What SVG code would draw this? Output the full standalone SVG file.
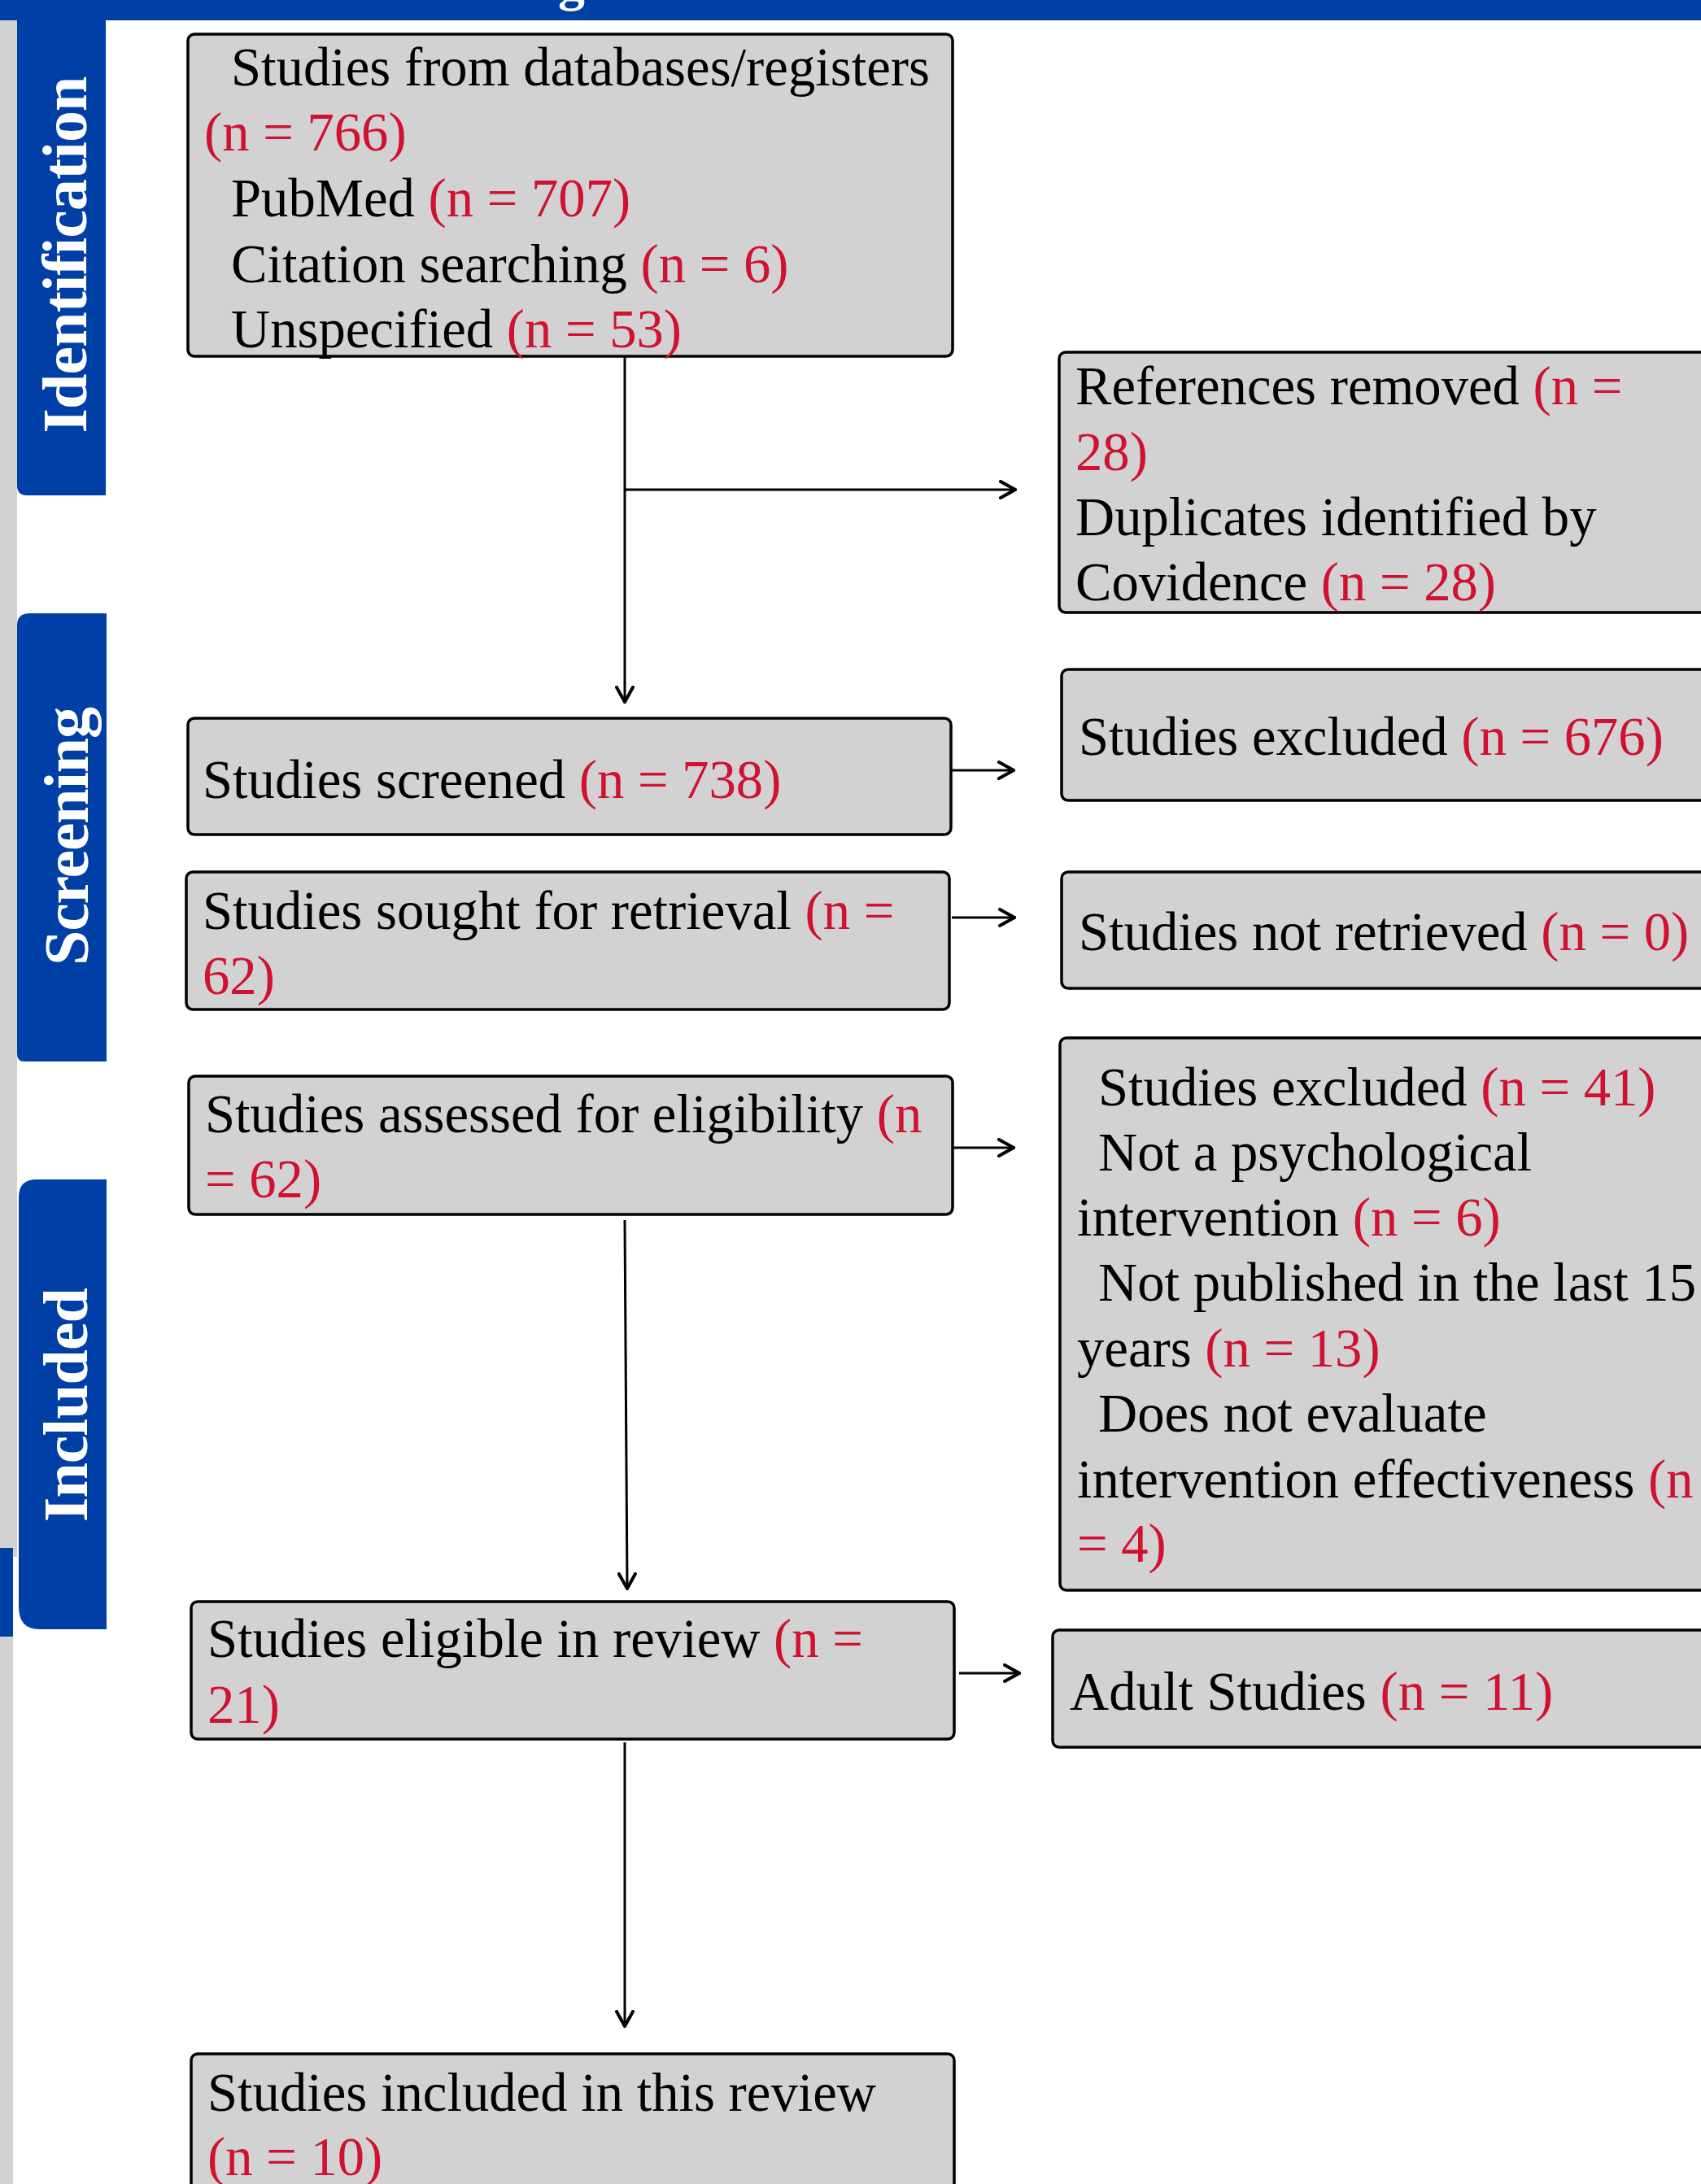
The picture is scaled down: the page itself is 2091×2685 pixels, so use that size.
<svg xmlns="http://www.w3.org/2000/svg" width="2091" height="2685" viewBox="0 0 2091 2685">
<style>
.box{fill:#d2d2d2;stroke:#000;stroke-width:3.5}
.t{font-family:"Liberation Serif","Times New Roman",serif;font-size:66.67px;fill:#000}
.r{fill:#d0112f}
.lab{font-family:"Liberation Serif","Times New Roman",serif;font-size:78px;font-weight:bold;fill:#fff}
.blue{fill:#0040a6}
.gray{fill:#d3d3d3}
.con{stroke:#000;stroke-width:3;fill:none}
</style>
<defs>
<marker id="ah" markerUnits="userSpaceOnUse" viewBox="0 0 22 24" refX="20" refY="12" markerWidth="22" markerHeight="24" orient="auto">
<path d="M2,2 L20,12 L2,22" fill="none" stroke="#000" stroke-width="4" stroke-linecap="round" stroke-linejoin="miter"/>
</marker>
</defs>
<rect width="2091" height="2685" fill="#fff"/>
<g id="frame">
<rect class="blue" x="0" y="0" width="2091" height="25"/>
<text x="686" y="0" style="font-family:'Liberation Serif',serif;font-size:66px;font-weight:bold;fill:#fff">g</text>
<rect class="gray" x="0" y="25" width="21" height="1889"/>
<rect class="gray" x="0" y="2012" width="16" height="673"/>
<rect class="blue" x="0" y="1903" width="16" height="109"/>
</g>
<g id="lane-identification">
<path class="blue" d="M21,25 H130 V609 H33 Q21,609 21,597 Z"/>
<text class="lab" text-anchor="middle" textLength="439" transform="translate(106,313) rotate(-90)">Identification</text>
</g>
<g id="lane-screening">
<path class="blue" d="M36,754 H131 V1305 H30 Q21,1305 21,1296 V769 Q21,754 36,754 Z"/>
<text class="lab" text-anchor="middle" textLength="318" transform="translate(108,1028) rotate(-90)">Screening</text>
</g>
<g id="lane-included">
<path class="blue" d="M45,1450 H131 V2003 H48 Q23,2003 23,1975 V1472 Q23,1450 45,1450 Z"/>
<text class="lab" text-anchor="middle" textLength="288" transform="translate(107,1727) rotate(-90)">Included</text>
</g>
<g id="connectors">
<path class="con" d="M768,438 V863" marker-end="url(#ah)"/>
<path class="con" d="M768,602 H1248" marker-end="url(#ah)"/>
<path class="con" d="M1170,947 H1246" marker-end="url(#ah)"/>
<path class="con" d="M1170,1128 H1247" marker-end="url(#ah)"/>
<path class="con" d="M768,1500 L771,1953" marker-end="url(#ah)"/>
<path class="con" d="M1171,1411 H1246" marker-end="url(#ah)"/>
<path class="con" d="M1179,2057 H1253" marker-end="url(#ah)"/>
<path class="con" d="M768,2142 V2491" marker-end="url(#ah)"/>
</g>
<g id="n-sources">
<rect class="box" x="231" y="42" width="940" height="396" rx="8"/>
<text class="t" x="284" y="105">Studies from databases/registers</text>
<text class="t r" x="251" y="185">(n = 766)</text>
<text class="t" x="284" y="266">PubMed <tspan class="r">(n = 707)</tspan></text>
<text class="t" x="284" y="347">Citation searching <tspan class="r">(n = 6)</tspan></text>
<text class="t" x="284" y="427">Unspecified <tspan class="r">(n = 53)</tspan></text>
</g>
<g id="n-removed">
<rect class="box" x="1302" y="433" width="820" height="320" rx="8"/>
<text class="t" x="1322" y="497">References removed <tspan class="r">(n =</tspan></text>
<text class="t r" x="1322" y="578">28)</text>
<text class="t" x="1322" y="658">Duplicates identified by</text>
<text class="t" x="1322" y="738">Covidence <tspan class="r">(n = 28)</tspan></text>
</g>
<g id="n-screened">
<rect class="box" x="231" y="883" width="938" height="143" rx="8"/>
<text class="t" x="249" y="981">Studies screened <tspan class="r">(n = 738)</tspan></text>
</g>
<g id="n-excluded1">
<rect class="box" x="1305" y="823" width="820" height="161" rx="8"/>
<text class="t" x="1326" y="928">Studies excluded <tspan class="r">(n = 676)</tspan></text>
</g>
<g id="n-sought">
<rect class="box" x="229" y="1072" width="938" height="169" rx="8"/>
<text class="t" x="249" y="1142">Studies sought for retrieval <tspan class="r">(n =</tspan></text>
<text class="t r" x="249" y="1222">62)</text>
</g>
<g id="n-notretrieved">
<rect class="box" x="1305" y="1072" width="820" height="143" rx="8"/>
<text class="t" x="1326" y="1168">Studies not retrieved <tspan class="r">(n = 0)</tspan></text>
</g>
<g id="n-assessed">
<rect class="box" x="232" y="1323" width="939" height="170" rx="8"/>
<text class="t" x="252" y="1392">Studies assessed for eligibility <tspan class="r">(n</tspan></text>
<text class="t r" x="252" y="1472">= 62)</text>
</g>
<g id="n-excluded2">
<rect class="box" x="1303" y="1276" width="820" height="679" rx="8"/>
<text class="t" x="1350" y="1359">Studies excluded <tspan class="r">(n = 41)</tspan></text>
<text class="t" x="1350" y="1439">Not a psychological</text>
<text class="t" x="1324" y="1519">intervention <tspan class="r">(n = 6)</tspan></text>
<text class="t" x="1350" y="1599">Not published in the last 15</text>
<text class="t" x="1324" y="1680">years <tspan class="r">(n = 13)</tspan></text>
<text class="t" x="1350" y="1760">Does not evaluate</text>
<text class="t" x="1324" y="1841">intervention effectiveness <tspan class="r">(n</tspan></text>
<text class="t r" x="1324" y="1920">= 4)</text>
</g>
<g id="n-eligible">
<rect class="box" x="235" y="1969" width="938" height="169" rx="8"/>
<text class="t" x="255" y="2037">Studies eligible in review <tspan class="r">(n =</tspan></text>
<text class="t r" x="255" y="2118">21)</text>
</g>
<g id="n-adult">
<rect class="box" x="1294" y="2004" width="830" height="144" rx="8"/>
<text class="t" x="1315" y="2102">Adult Studies <tspan class="r">(n = 11)</tspan></text>
</g>
<g id="n-included">
<rect class="box" x="235" y="2525" width="938" height="200" rx="8"/>
<text class="t" x="255" y="2595">Studies included in this review</text>
<text class="t r" x="255" y="2674">(n = 10)</text>
</g>
</svg>
